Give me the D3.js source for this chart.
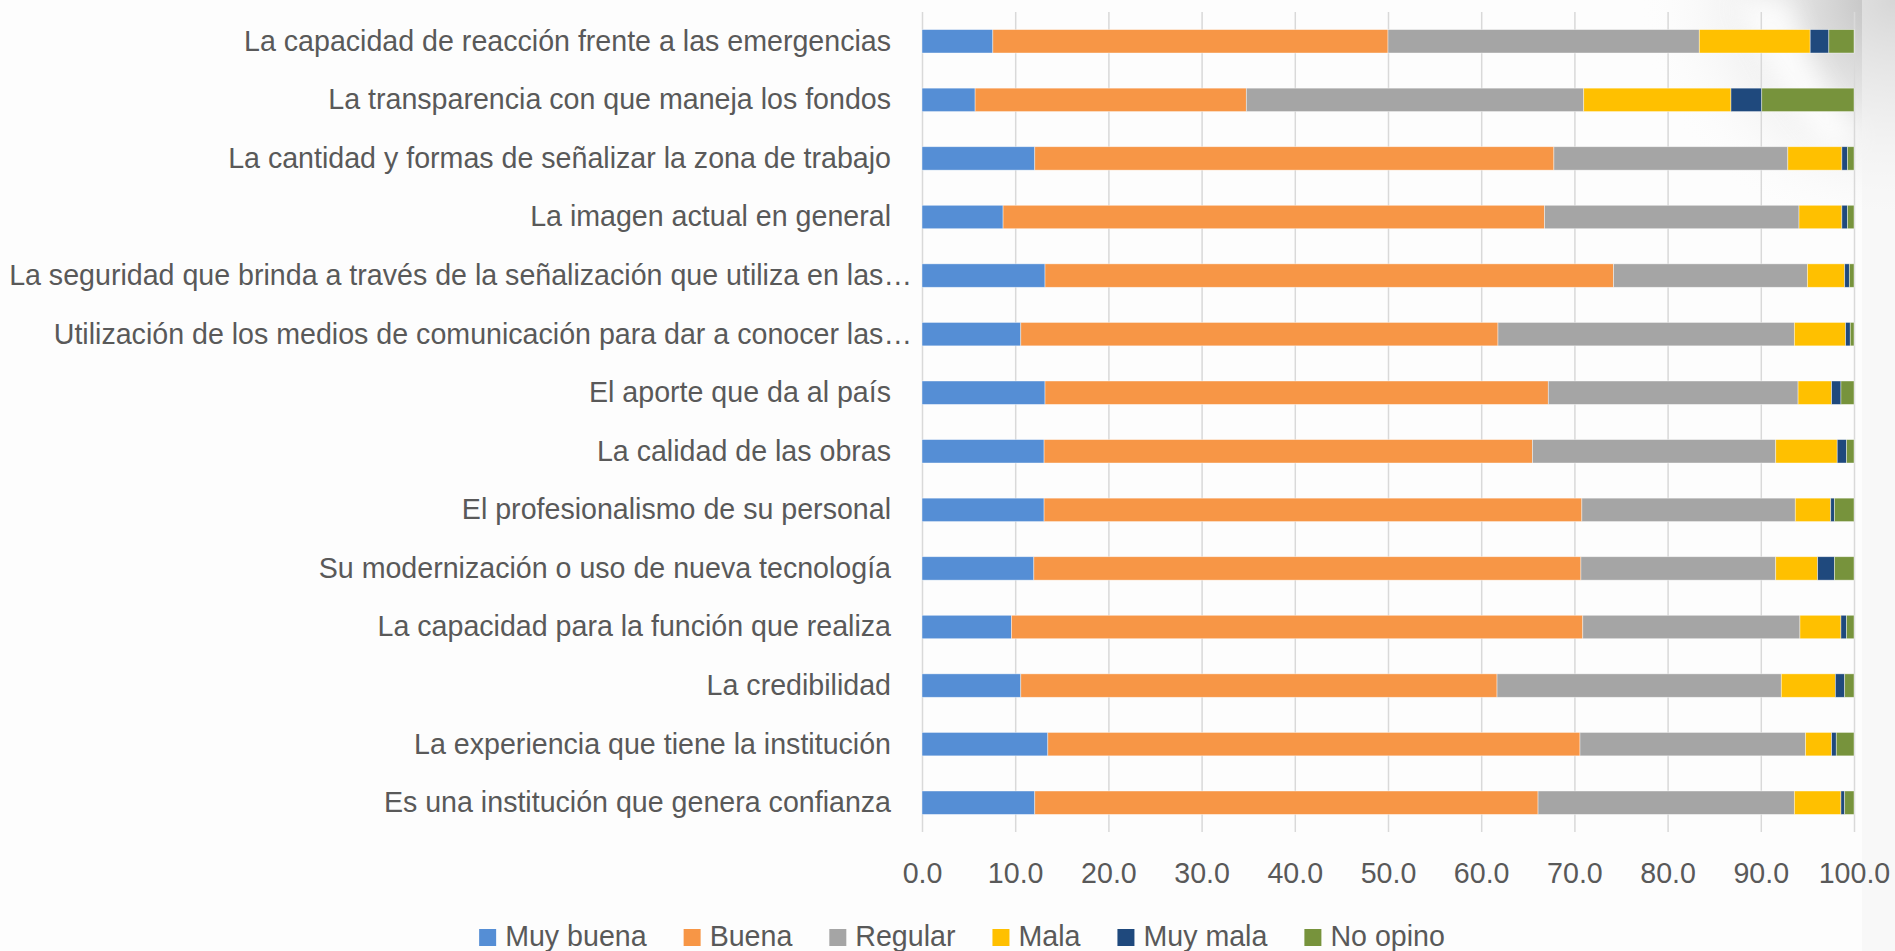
<!DOCTYPE html>
<html>
<head>
<meta charset="utf-8">
<script src="https://cdn.jsdelivr.net/npm/d3@7"></script>
<style>
  html, body { margin: 0; padding: 0; background: #fdfdfd; }
  svg { display: block; }
  text { font-family: "Liberation Sans", Arial, sans-serif; fill: #595959; }
</style>
</head>
<body>
<svg id="chart" width="1895" height="951"></svg>
<script>
// Survey items, top to bottom
const categories = [
  "La capacidad de reacción frente a las emergencias",
  "La transparencia con que maneja los fondos",
  "La cantidad y formas de señalizar la zona de trabajo",
  "La imagen actual en general",
  "La seguridad que brinda a través de la señalización que utiliza en las…",
  "Utilización de los medios de comunicación para dar a conocer las…",
  "El aporte que da al país",
  "La calidad de las obras",
  "El profesionalismo de su personal",
  "Su modernización o uso de nueva tecnología",
  "La capacidad para la función que realiza",
  "La credibilidad",
  "La experiencia que tiene la institución",
  "Es una institución que genera confianza"
];

// Percentages per rating, same order as categories
const muyBuena = [7.6, 5.7, 12.1, 8.7, 13.2, 10.6, 13.2, 13.1, 13.1, 12.0, 9.6, 10.6, 13.5, 12.1];
const buena    = [42.4, 29.1, 55.7, 58.1, 61.0, 51.2, 54.0, 52.4, 57.7, 58.7, 61.3, 51.1, 57.1, 54.0];
const regular  = [33.4, 36.2, 25.1, 27.3, 20.8, 31.8, 26.8, 26.1, 22.9, 20.9, 23.3, 30.5, 24.2, 27.5];
const mala     = [11.9, 15.8, 5.8, 4.6, 4.0, 5.5, 3.6, 6.6, 3.8, 4.5, 4.4, 5.8, 2.8, 5.0];
const muyMala  = [2.0, 3.3, 0.6, 0.6, 0.5, 0.5, 1.0, 1.0, 0.4, 1.8, 0.6, 1.0, 0.5, 0.4];
const noOpino  = [2.7, 9.9, 0.7, 0.7, 0.5, 0.4, 1.4, 0.8, 2.1, 2.1, 0.8, 1.0, 1.9, 1.0];

const seriesNames  = ["Muy buena", "Buena", "Regular", "Mala", "Muy mala", "No opino"];
const seriesValues = [muyBuena, buena, regular, mala, muyMala, noOpino];
const seriesColors = ["#558ed5", "#f79646", "#a5a5a5", "#ffc000", "#1f497d", "#77933c"];

const xTicks = [0, 10, 20, 30, 40, 50, 60, 70, 80, 90, 100];

// Build a row table for the stack layout
const rows = categories.map((c, i) => {
  const r = { category: c };
  seriesNames.forEach((s, k) => { r[s] = seriesValues[k][i]; });
  return r;
});

const svg = d3.select("#chart");
const W = 1895, H = 951;
const plot = { left: 922, right: 1854, top: 12, bottom: 832 };
const fontSize = 28.6;

// Background with soft shading in the upper-right corner
const defs = svg.append("defs");
const rg = defs.append("radialGradient").attr("id", "cornerShade")
  .attr("cx", 1.0).attr("cy", 0.0).attr("r", 1.0);
rg.append("stop").attr("offset", "0%").attr("stop-color", "#b5b5b5").attr("stop-opacity", 0.95);
rg.append("stop").attr("offset", "45%").attr("stop-color", "#d8d8d8").attr("stop-opacity", 0.6);
rg.append("stop").attr("offset", "100%").attr("stop-color", "#fdfdfd").attr("stop-opacity", 0);
const blur = defs.append("filter").attr("id", "soft").attr("x", "-50%").attr("y", "-50%")
  .attr("width", "200%").attr("height", "200%");
blur.append("feGaussianBlur").attr("stdDeviation", 12);

svg.append("rect").attr("width", W).attr("height", H).attr("fill", "#fdfdfd");
svg.append("rect").attr("x", 1640).attr("y", 0).attr("width", 255).attr("height", 240)
  .attr("fill", "url(#cornerShade)");
svg.append("path")
  .attr("d", "M1735,0 C1760,60 1790,110 1830,150 L1860,140 C1830,100 1800,50 1790,0 Z")
  .attr("fill", "#ffffff").attr("opacity", 0.85).attr("filter", "url(#soft)");
svg.append("rect").attr("x", 1862).attr("y", 0).attr("width", 33).attr("height", 951)
  .attr("fill", "#f3f3f3").attr("opacity", 0.5);

const x = d3.scaleLinear().domain([0, 100]).range([plot.left, plot.right]);
const y = d3.scaleBand().domain(categories).range([plot.top, plot.bottom])
  .paddingInner(0.6).paddingOuter(0.3);

// Vertical gridlines and value ticks
const xAxis = d3.axisBottom(x).tickValues(xTicks).tickFormat(d3.format(".1f"))
  .tickSize(-(plot.bottom - plot.top)).tickPadding(31);
const gx = svg.append("g").attr("transform", `translate(0,${plot.bottom})`).call(xAxis);
gx.select(".domain").remove();
gx.selectAll(".tick line").attr("stroke", "#d9d9d9").attr("stroke-width", 1.5);
gx.selectAll(".tick text").attr("font-size", fontSize).attr("fill", "#595959")
  .style("font-family", "'Liberation Sans', Arial, sans-serif");

// Stacked bars
const stack = d3.stack().keys(seriesNames);
const layers = stack(rows);
svg.append("g").selectAll("g").data(layers).join("g")
  .attr("fill", (d, i) => seriesColors[i])
  .selectAll("rect").data(d => d).join("rect")
  .attr("x", d => x(d[0]))
  .attr("y", d => y(d.data.category))
  .attr("width", d => x(d[1]) - x(d[0]))
  .attr("height", y.bandwidth())
  .attr("stroke", "#ffffff").attr("stroke-opacity", 0.55).attr("stroke-width", 0.75);

// Category labels
svg.append("g").selectAll("text").data(categories).join("text")
  .attr("x", d => d.endsWith("…") ? plot.left - 10 : plot.left - 31)
  .attr("y", d => y(d) + y.bandwidth() / 2)
  .attr("dy", "0.33em")
  .attr("text-anchor", "end")
  .attr("font-size", fontSize)
  .text(d => d);

// Legend, centred below the chart
const legend = svg.append("g");
const sw = 17, gapText = 9, gapItem = 37;
const items = legend.selectAll("g").data(seriesNames).join("g");
items.append("rect").attr("width", sw).attr("height", sw)
  .attr("y", -sw).attr("fill", (d, i) => seriesColors[i]);
items.append("text").attr("x", sw + gapText).attr("y", 0)
  .attr("font-size", fontSize).text(d => d);
let cursor = 0;
items.each(function () {
  const g = d3.select(this);
  const tw = g.select("text").node().getComputedTextLength();
  g.attr("transform", `translate(${cursor},0)`);
  cursor += sw + gapText + tw + gapItem;
});
const totalW = cursor - gapItem;
legend.attr("transform", `translate(${962 - totalW / 2},946)`);
</script>
</body>
</html>
